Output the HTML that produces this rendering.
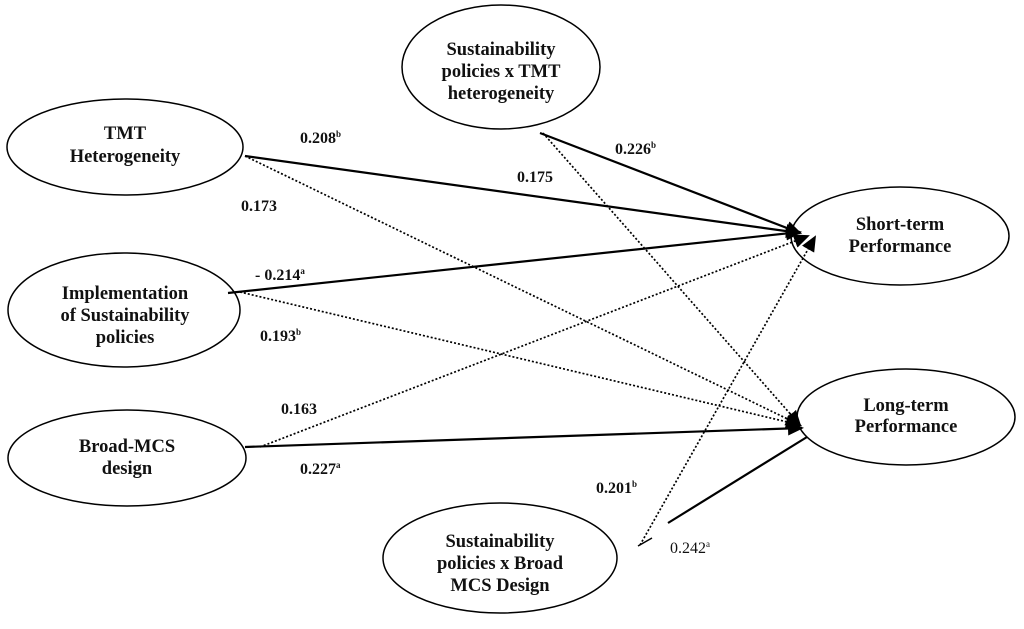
<!DOCTYPE html>
<html><head><style>
body{margin:0;background:#fff}
svg text{font-family:"Liberation Serif",serif;font-size:16px;fill:#111}
.n{font-weight:bold;font-size:18.5px}
</style></head><body>
<svg width="1024" height="624" viewBox="0 0 1024 624" xmlns="http://www.w3.org/2000/svg">
<defs>
<marker id="m" markerWidth="16" markerHeight="14" refX="14" refY="7" orient="auto" markerUnits="userSpaceOnUse"><path d="M0,0 L16,7 L0,14 z" fill="#000"/></marker></defs>
<g fill="none" stroke="#000" stroke-width="1.5">
<ellipse cx="125" cy="147" rx="118" ry="48"/>
<ellipse cx="124" cy="310" rx="116" ry="57"/>
<ellipse cx="127" cy="458" rx="119" ry="48"/>
<ellipse cx="501" cy="67" rx="99" ry="62"/>
<ellipse cx="900" cy="236" rx="109" ry="49"/>
<ellipse cx="906" cy="417" rx="109" ry="48"/>
<ellipse cx="500" cy="558" rx="117" ry="55"/>
</g>
<g stroke="#000" stroke-width="2.2" fill="none">
<line x1="245" y1="156" x2="800" y2="233" marker-end="url(#m)"/>
<line x1="228" y1="293" x2="800" y2="232" marker-end="url(#m)"/>
<line x1="245" y1="447" x2="802" y2="428" marker-end="url(#m)"/>
<line x1="540" y1="133" x2="800" y2="233" marker-end="url(#m)"/>
<line x1="668" y1="523" x2="807" y2="437"/>
</g>
<g stroke="#000" stroke-width="1.7" fill="none" stroke-dasharray="2,2">
<line x1="245" y1="156" x2="800" y2="425" marker-end="url(#m)"/>
<line x1="240" y1="292" x2="800" y2="425" marker-end="url(#m)"/>
<line x1="260" y1="447" x2="808" y2="236" marker-end="url(#m)"/>
<line x1="543" y1="133" x2="800" y2="425" marker-end="url(#m)"/>
<line x1="640" y1="545" x2="815" y2="237" marker-end="url(#m)"/>
</g>
<line x1="638" y1="546" x2="652" y2="538" stroke="#000" stroke-width="1.5"/>
<g text-anchor="middle">
<text x="125" y="139" class="n">TMT</text>
<text x="125" y="162" class="n">Heterogeneity</text>
<text x="125" y="299" class="n">Implementation</text>
<text x="125" y="321" class="n">of Sustainability</text>
<text x="125" y="343" class="n">policies</text>
<text x="127" y="452" class="n">Broad-MCS</text>
<text x="127" y="474" class="n">design</text>
<text x="501" y="55" class="n">Sustainability</text>
<text x="501" y="77" class="n">policies x TMT</text>
<text x="501" y="99" class="n">heterogeneity</text>
<text x="900" y="230" class="n">Short-term</text>
<text x="900" y="252" class="n">Performance</text>
<text x="906" y="411" class="n">Long-term</text>
<text x="906" y="432" class="n">Performance</text>
<text x="500" y="547" class="n">Sustainability</text>
<text x="500" y="569" class="n">policies x Broad</text>
<text x="500" y="591" class="n">MCS Design</text>
</g>
<g font-weight="bold" font-size="15">
<text x="300" y="143" font-weight="bold">0.208<tspan font-size="9" dy="-6">b</tspan></text>
<text x="517" y="182" font-weight="bold">0.175</text>
<text x="241" y="211" font-weight="bold">0.173</text>
<text x="255" y="280" font-weight="bold">- 0.214<tspan font-size="9" dy="-6">a</tspan></text>
<text x="260" y="341" font-weight="bold">0.193<tspan font-size="9" dy="-6">b</tspan></text>
<text x="281" y="414" font-weight="bold">0.163</text>
<text x="300" y="474" font-weight="bold">0.227<tspan font-size="9" dy="-6">a</tspan></text>
<text x="615" y="154" font-weight="bold">0.226<tspan font-size="9" dy="-6">b</tspan></text>
<text x="596" y="493" font-weight="bold">0.201<tspan font-size="9" dy="-6">b</tspan></text>
</g>
<text x="670" y="553" font-size="15" fill="#555">0.242<tspan font-size="9" dy="-6">a</tspan></text>
</svg>
</body></html>
